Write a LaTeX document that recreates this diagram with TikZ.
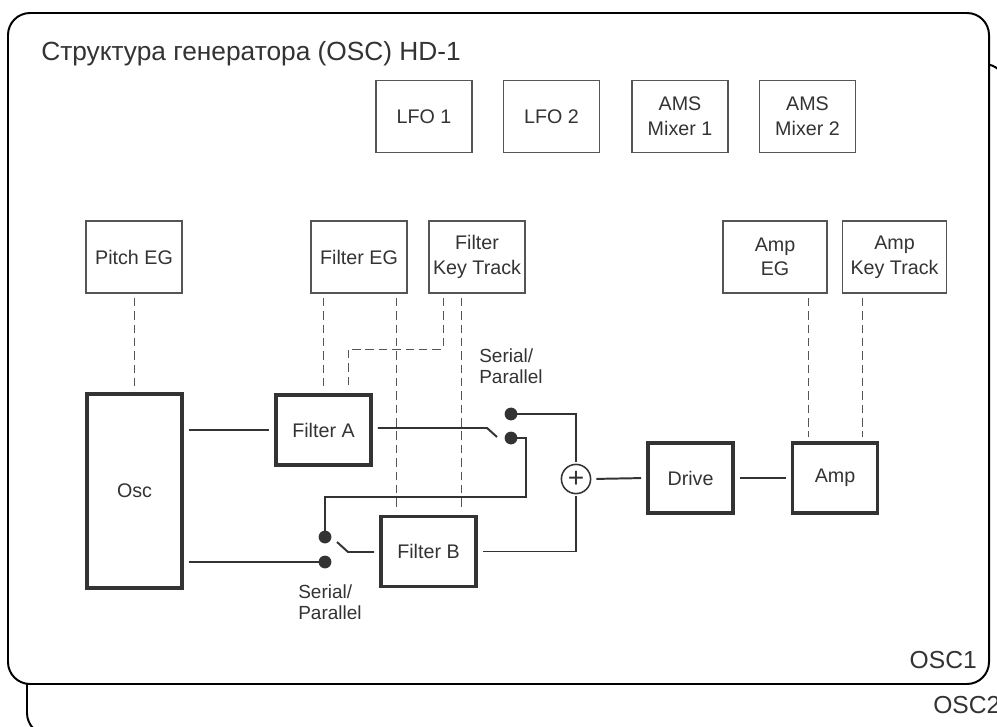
\documentclass[tikz,border=0pt]{standalone}
\usepackage{fontspec}
\setmainfont{Liberation Sans}

\definecolor{ink}{HTML}{333333}
\definecolor{rule}{HTML}{555555}

\begin{document}
\begin{tikzpicture}[x=0.025cm, y=-0.025cm,
    every node/.style={font=\fontsize{14}{17.5}\selectfont, text=ink},
    ctl/.style={rectangle, draw=rule, line width=0.9pt, minimum width=2.4cm,
                minimum height=1.8cm, align=center, inner sep=1pt},
    blk/.style={rectangle, draw=ink, line width=2.8pt, minimum width=2.375cm,
                minimum height=1.75cm, align=center},
    dot/.style={circle, fill=ink, minimum size=3.2mm, inner sep=0pt},
    sumnd/.style={circle, draw=ink, line width=1.1pt, minimum size=7.3mm,
                  inner sep=0pt, font=\fontsize{20}{20}\selectfont},
    sig/.style={draw=ink, line width=1.4pt},
    gap/.style={shorten <=3.5pt, shorten >=3.5pt},
    mod/.style={draw=rule, line width=0.7pt, dash pattern=on 6pt off 3.5pt,
                shorten <=3pt, shorten >=3pt},
    frame/.style={draw=black, line width=1.4pt, rounded corners=0.55cm},
    lbl/.style={align=left, inner sep=0pt, font=\fontsize{13.5}{15}\selectfont},
  ]
  \useasboundingbox (0,0) rectangle (997,727);
  \clip (0,0) rectangle (997,727);

  % OSC2 behind, OSC1 in front
  \draw[frame, fill=white] (27,64) rectangle (1006,735);
  \node[anchor=base west, inner sep=0pt, font=\fontsize{17.5}{20}\selectfont] (osc2lbl) at (933,713) {OSC2};
  \draw[frame, fill=white] (8,13) rectangle (989,684);
  \node[anchor=base west, inner sep=0pt, font=\fontsize{18.7}{20}\selectfont] (title) at (41,61) {Структура генератора (OSC) HD-1};
  \node[anchor=base east, inner sep=0pt, font=\fontsize{17.5}{20}\selectfont] (osc1lbl) at (977,668) {OSC1};

  % modulation sources
  \node[ctl] (lfo1) at (424,116.5) {LFO 1};
  \node[ctl] (lfo2) at (551.5,116.5) {LFO 2};
  \node[ctl] (ams1) at (680,116.5) {AMS\\Mixer 1};
  \node[ctl] (ams2) at (807.5,116.5) {AMS\\Mixer 2};
  \node[ctl] (peg) at (134,257) {Pitch EG};
  \node[ctl] (feg) at (359,257) {Filter EG};
  \node[ctl] (fkt) at (477,257) {Filter\\Key Track};
  \node[ctl, minimum width=2.6cm] (aeg) at (775,257) {Amp\\EG};
  \node[ctl, minimum width=2.6cm] (akt) at (894.5,257) {Amp\\Key Track};

  % signal blocks
  \node[blk, minimum height=4.85cm] (osc) at (134.5,491) {Osc};
  \node[blk] (fa) at (323.5,430) {Filter A};
  \node[blk] (fb) at (428.5,551.5) {Filter B};
  \node[blk, minimum width=2.125cm] (drv) at (690.5,478) {Drive};
  \node[blk, minimum width=2.125cm] (amp) at (835,478) {Amp};
  \node[sumnd] (sum) at (576,479) {+};

  % switches
  \node[dot] (swAs) at (511,414) {};
  \node[dot] (swAp) at (511,438) {};
  \node[dot] (swBs) at (325,537) {};
  \node[dot] (swBp) at (325,562) {};
  \coordinate (bladeA0) at (487,428);
  \coordinate (bladeA1) at (497,437);
  \coordinate (bladeB0) at (337,542);
  \coordinate (bladeB1) at (348,552);
  \coordinate (loopB) at (526,497);
  \node[lbl, anchor=north west] (spA) at (479,348) {Serial/\\Parallel};
  \node[lbl, anchor=north west] (spB) at (298,584) {Serial/\\Parallel};

  % audio path
  \draw[sig, gap] (osc.east |- fa.west) -- (fa.west);
  \draw[sig, shorten <=3.5pt] (osc.east |- swBp) -- (swBp.center);
  \draw[sig] (swBs.center) -- (swBs |- loopB) -- (loopB) |- (swAp.center);
  \draw[sig, shorten >=3.5pt] (bladeB0) -- (bladeB1) -- (fb.west |- bladeB1);
  \draw[sig, shorten <=3.5pt] (fa.east |- bladeA0) -- (bladeA0) -- (bladeA1);
  \draw[sig, shorten >=1.5pt] (swAs.center) -| (sum.north);
  \draw[sig, shorten <=3.5pt, shorten >=1.5pt] (fb.east) -| (sum.south);
  \draw[sig, gap] (sum.east) -- (drv.west);
  \draw[sig, gap] (drv) -- (amp);

  % modulation routing
  \coordinate (fegB) at (396,0);
  \coordinate (ktA) at (443,349);
  \coordinate (ktA2) at (348,349);
  \coordinate (ktB) at (461,0);
  \coordinate (ampA) at (808,0);
  \coordinate (ampB) at (862,0);
  \draw[mod] (peg.south) -- (peg.south |- osc.north);
  \draw[mod] (feg.south -| fa.north) -- (fa.north);
  \draw[mod] (feg.south -| fegB) -- (fb.north -| fegB);
  \draw[mod] (fkt.south -| ktA) -- (ktA) -- (ktA2) -- (fa.north -| ktA2);
  \draw[mod] (fkt.south -| ktB) -- (fb.north -| ktB);
  \draw[mod] (aeg.south -| ampA) -- (amp.north -| ampA);
  \draw[mod] (akt.south -| ampB) -- (amp.north -| ampB);
\end{tikzpicture}
\end{document}
